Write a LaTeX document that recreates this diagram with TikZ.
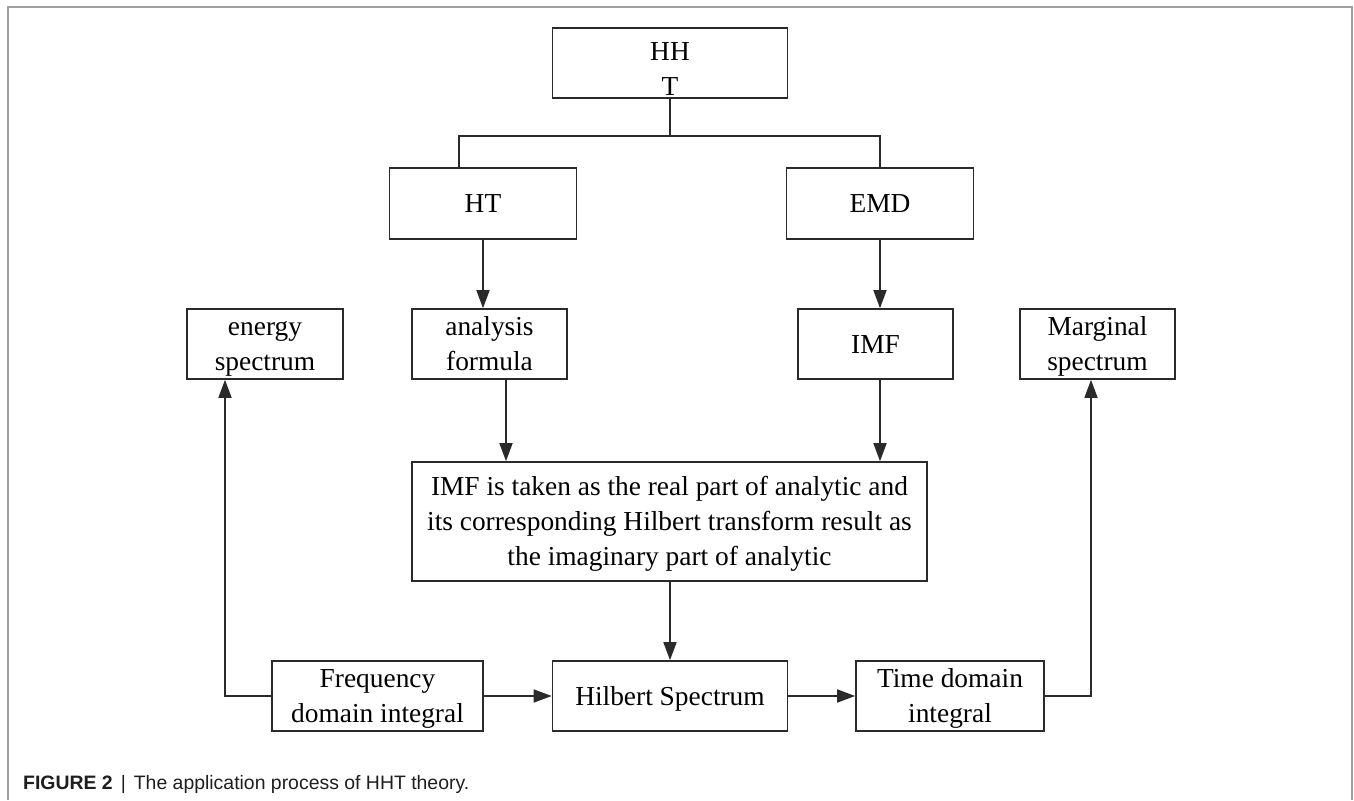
\documentclass[tikz,border=0pt]{standalone}
\usepackage{fontspec}
\setmainfont{Liberation Serif}
\newfontfamily\capfont{Liberation Sans}
\usetikzlibrary{arrows.meta}
\definecolor{edge}{HTML}{2A2A2A}
\definecolor{framegray}{HTML}{A0A0A0}
\definecolor{captext}{HTML}{1E1E1E}
% line strut: 26bp above the baseline, 8bp below
\newcommand{\ls}{\rule[-8bp]{0pt}{34bp}}
\begin{document}
\begin{tikzpicture}[x=1bp,y=-1bp,
  box/.style={draw=edge, line width=1.6bp, rectangle, inner sep=0pt,
    align=center, font=\fontsize{27.5}{33}\selectfont},
  link/.style={draw=edge, line width=1.6bp},
  flow/.style={link, -{Triangle[length=18bp,width=13bp]}}]
\useasboundingbox (0,0) rectangle (1354,800);
% outer frame (open at the bottom)
\draw[framegray, line width=1.3bp] (8,800) -- (8,7) -- (1352,7) -- (1352,800);

% boxes
\node[box, minimum width=235bp, minimum height=70bp] (hht) at (670,63) {};
\node[align=center, inner sep=0pt, font=\fontsize{27.5}{33}\selectfont]
  (hhtlabel) at (670,69) {\ls HH\\\ls T};
\node[box, minimum width=187bp, minimum height=71bp] (ht) at (483,203.5) {\ls HT};
\node[box, minimum width=187bp, minimum height=71bp] (emd) at (880,203.5) {\ls EMD};
\node[box, minimum width=156bp, minimum height=70bp] (energy) at (265,344) {\ls energy\\\ls spectrum};
\node[box, minimum width=155bp, minimum height=70bp] (formula) at (489.5,344) {\ls analysis\\\ls formula};
\node[box, minimum width=155bp, minimum height=70bp] (imf) at (875.5,344) {\ls IMF};
\node[box, minimum width=155bp, minimum height=70bp] (marginal) at (1097.5,344) {\ls Marginal\\\ls spectrum};
\node[box, minimum width=515bp, minimum height=119bp] (big) at (669.5,521.5)
  {\ls IMF is taken as the real part of analytic and\\\ls its corresponding Hilbert transform result as\\\ls the imaginary part of analytic};
\node[box, minimum width=211bp, minimum height=70bp] (freq) at (377.5,696) {\ls Frequency\\\ls domain integral};
\node[box, minimum width=235bp, minimum height=70bp] (hilbert) at (670,696) {\ls Hilbert Spectrum};
\node[box, minimum width=188bp, minimum height=70bp] (time) at (950,696) {\ls Time domain\\\ls integral};

% branching from the top box
\coordinate (bleft) at (459,136);
\coordinate (bright) at (880,136);
\draw[link] (hht.south) -- (hht.south |- bleft);
\draw[link] (bleft |- ht.north) -- (bleft) -- (bright) -- (emd.north);

% downward flow
\draw[flow] (ht.south) -- (ht.south |- formula.north);
\draw[flow] (emd.south) -- (emd.south |- imf.north);
\coordinate (fx) at (506,0);
\draw[flow] (fx |- formula.south) -- (fx |- big.north);
\draw[flow] (emd.south |- imf.south) -- (emd.south |- big.north);
\draw[flow] (hilbert.north |- big.south) -- (hilbert.north);

% bottom row
\draw[flow] (freq.east) -- (hilbert.west);
\draw[flow] (hilbert.east) -- (time.west);
\coordinate (lx) at (225,0);
\coordinate (rx) at (1091,0);
\draw[flow] (freq.west) -- (freq.west -| lx) -- (lx |- energy.south);
\draw[flow] (time.east) -- (time.east -| rx) -- (rx |- marginal.south);

% caption
\node[anchor=base west, inner sep=0pt, text=captext,
  font=\capfont\fontsize{19.5}{23}\selectfont] (cap) at (23,789)
  {\bfseries FIGURE 2\hspace{8bp}{\mdseries|}\hspace{8bp}\mdseries The application process of HHT theory.};
\end{tikzpicture}
\end{document}
